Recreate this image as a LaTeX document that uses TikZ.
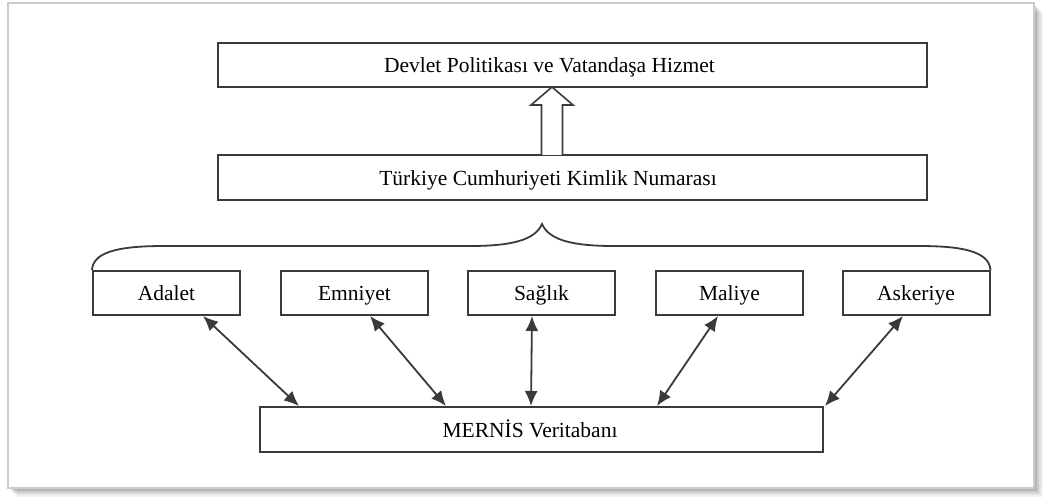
\documentclass[tikz,border=0pt]{standalone}
\usepackage{fontspec}
\setmainfont{Liberation Serif}
\usetikzlibrary{arrows.meta,calc}
\definecolor{lc}{HTML}{3A3A3A}
\begin{document}
\begin{tikzpicture}[x=1pt,y=-1pt,
  box/.style={draw=lc,line width=2pt,fill=white,inner sep=0pt,minimum width=147pt,minimum height=44pt,text height=14pt,text depth=0pt,font=\fontsize{21.5}{25}\selectfont},
  wide/.style={draw=lc,line width=2pt,fill=white,inner sep=0pt,minimum width=709pt,minimum height=44pt},
  lbl/.style={inner sep=0pt,text height=14pt,text depth=0pt,font=\fontsize{21.5}{25}\selectfont},
  dbl/.style={draw=lc,line width=1.8pt,{Latex[length=15pt,width=13pt]}-{Latex[length=15pt,width=13pt]}}]
\useasboundingbox (0,0) rectangle (1044,500);
% outer frame with shadow
\foreach \i/\o in {9/0.05,7/0.07,5/0.09,3/0.12,1/0.15}{
  \fill[black,opacity=\o] (8+\i,3+\i) rectangle (1034+\i,488+\i);
}
\filldraw[fill=white,draw=black!20,line width=1.2pt] (8,3) rectangle (1034,488);
% top boxes
\node[wide] (top) at (572.5,65.5) {};
\node[lbl] (toptext) at (549.5,65.5) {Devlet Politikası ve Vatandaşa Hizmet};
\node[wide,minimum height=45pt] (tc) at (572.5,177.5) {};
\node[lbl] (tctext) at (548,178) {Türkiye Cumhuriyeti Kimlik Numarası};
% hollow arrow
\draw[lc,line width=1.6pt,fill=white,line join=miter]
  (541.5,155) -- (541.5,105) -- (531,105) -- (552,87) -- (573,105) -- (562.5,105) -- (562.5,155);
% small boxes
\node[box] (adalet) at (166.5,293) {Adalet};
\node[box] (emniyet) at (354.5,293) {Emniyet};
\node[box] (saglik) at (541.5,293) {Sağlık};
\node[box] (maliye) at (729.5,293) {Maliye};
\node[box] (askeriye) at (916,293) {Askeriye};
% brace
\draw[lc,line width=1.8pt] (adalet.north west) .. controls (93,250) and (125,246) .. (165,246)
  -- (470,246) .. controls (512,246) and (535,240) .. (542,224)
  .. controls (549,240) and (572,246) .. (614,246)
  -- (918,246) .. controls (958,246) and (989,250) .. (askeriye.north east);
% database
\node[wide,minimum width=563pt,minimum height=45pt] (mernis) at (541.5,429.5) {};
\node[lbl] (mernistext) at (530,430) {MERNİS Veritabanı};
% connectors
\draw[dbl] ([xshift=36.5pt]adalet.south) -- ([xshift=40pt]mernis.north west);
\draw[dbl] ([xshift=15.5pt]emniyet.south) -- ([xshift=187pt]mernis.north west);
\draw[dbl] ([xshift=-9.5pt]saglik.south) -- ([xshift=272pt]mernis.north west);
\draw[dbl] ([xshift=-11.5pt]maliye.south) -- ([xshift=398pt]mernis.north west);
\draw[dbl] ([xshift=-13pt]askeriye.south) -- ([xshift=1pt]mernis.north east);
\end{tikzpicture}
\end{document}
